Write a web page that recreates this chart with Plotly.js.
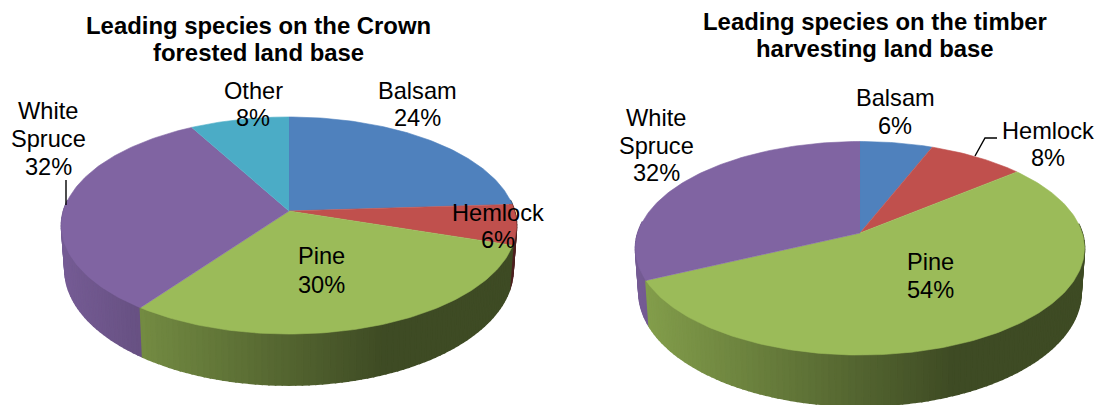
<!DOCTYPE html>
<html>
<head>
<meta charset="utf-8">
<script src="https://cdn.plot.ly/plotly-3.0.1.min.js"></script>
<style>html,body{margin:0;padding:0;background:#fff}#chart{width:1095px;height:405px}</style>
</head>
<body>
<div id="chart"></div>
<script>
// Leading species shares, percent of each land base
const crownSpecies = ["Balsam", "Hemlock", "Pine", "White Spruce", "Other"];
const crownShares = [24, 6, 30, 32, 8];
const timberSpecies = ["Balsam", "Hemlock", "Pine", "White Spruce"];
const timberShares = [6, 8, 54, 32];

const speciesColors = {
  "Balsam": [79, 129, 189],
  "Hemlock": [192, 80, 77],
  "Pine": [155, 187, 89],
  "White Spruce": [128, 100, 162],
  "Other": [75, 172, 198]
};
// The spruce wall catches a little more light than the others
const wallLift = {"White Spruce": 0.06};

// Perspective disc: apex position, half width, tilt depth, foreshortening
const crownDisc = {cx: 289, cy: 211, a: 225.5, b: 106.6, k: 0.1337};
const timberDisc = {cx: 860, cy: 233, a: 222.2, b: 104.6, k: 0.1429};
const WALL = {drop: 42.8, sx: 0.985, sy: 1.067};

const FONT = "Liberation Sans, Arial, sans-serif";
const LABEL_SIZE = 23.6;
const TITLE_SIZE = 23.9;

function topPoint(d, deg) {
  const t = deg * Math.PI / 180, s = 1 + d.k * Math.cos(t);
  return [d.a * Math.sin(t) / s, d.b * Math.cos(t) / s];
}
const toX = (d, u) => d.cx + u;
const toY = (d, v) => d.cy - v;
function wallPoint(d, deg) {
  const p = topPoint(d, deg);
  return [p[0] * WALL.sx, p[1] * WALL.sy - WALL.drop];
}
function shade(rgb, f) {
  return "rgb(" + rgb.map(c => Math.round(c * f)).join(",") + ")";
}
// Side wall gets darker from left to right, then stays flat
function wallFactor(d, u) {
  const t = u / d.a;
  return Math.max(0.4, 0.4 + (0.42 - t) * 0.32);
}

function poly(xs, ys, color, width) {
  return {
    type: "scatter", mode: "lines", x: xs, y: ys, fill: "toself",
    fillcolor: color, line: {color: color, width: width},
    hoverinfo: "skip", showlegend: false
  };
}

function discTraces(d, species, shares) {
  const walls = [], tops = [];
  let acc = 0;
  species.forEach((name, i) => {
    const start = acc * 3.6, end = (acc + shares[i]) * 3.6;
    acc += shares[i];
    const rgb = speciesColors[name];
    // top face wedge
    const xs = [toX(d, 0)], ys = [toY(d, 0)];
    for (let deg = start; deg < end; deg += 1) {
      const p = topPoint(d, deg);
      xs.push(toX(d, p[0])); ys.push(toY(d, p[1]));
    }
    const last = topPoint(d, end);
    xs.push(toX(d, last[0])); ys.push(toY(d, last[1]));
    tops.push(poly(xs, ys, shade(rgb, 1), 0.6));
    // wall strips along the near half of the rim, each overlapping the next
    const step = 1.5;
    for (let deg = start; deg < end; deg += step) {
      const next = Math.min(deg + step, end), mid = (deg + next) / 2;
      if (Math.cos(mid * Math.PI / 180) > 0.1) continue;
      const a = topPoint(d, deg), b = topPoint(d, next);
      const c = wallPoint(d, next), e = wallPoint(d, deg);
      const strip = poly(
        [a, b, c, e, a].map(p => toX(d, p[0])),
        [a, b, c, e, a].map(p => toY(d, p[1])),
        shade(rgb, wallFactor(d, (a[0] + b[0]) / 2) + (wallLift[name] || 0)),
        1.6
      );
      strip.depth = -Math.cos(mid * Math.PI / 180);
      walls.push(strip);
    }
  });
  walls.sort((p, q) => p.depth - q.depth);
  walls.forEach(w => delete w.depth);
  return walls.concat(tops);
}

function leader(xs, ys) {
  return {
    type: "scatter", mode: "lines", x: xs, y: ys,
    line: {color: "#000", width: 1.4}, hoverinfo: "skip", showlegend: false
  };
}

function textLine(text, x, y, size, bold) {
  return {
    text: bold ? "<b>" + text + "</b>" : text,
    x: x, y: y, xref: "x", yref: "y",
    xanchor: "center", yanchor: "middle", showarrow: false,
    font: {family: FONT, size: size, color: "#000"}
  };
}

const pct = v => v + "%";
const annotations = [
  textLine("Leading species on the Crown", 258, 25, TITLE_SIZE, true),
  textLine("forested land base", 258, 52, TITLE_SIZE, true),
  textLine("Leading species on the timber", 875, 21, TITLE_SIZE, true),
  textLine("harvesting land base", 875, 48, TITLE_SIZE, true),

  textLine(crownSpecies[0], 417, 91, LABEL_SIZE),
  textLine(pct(crownShares[0]), 417, 118, LABEL_SIZE),
  textLine(crownSpecies[1], 498, 213, LABEL_SIZE),
  textLine(pct(crownShares[1]), 498, 240, LABEL_SIZE),
  textLine(crownSpecies[2], 321, 256, LABEL_SIZE),
  textLine(pct(crownShares[2]), 321, 285, LABEL_SIZE),
  textLine("White", 48, 111, LABEL_SIZE),
  textLine("Spruce", 48, 139, LABEL_SIZE),
  textLine(pct(crownShares[3]), 48, 167, LABEL_SIZE),
  textLine(crownSpecies[4], 253, 91, LABEL_SIZE),
  textLine(pct(crownShares[4]), 253, 118, LABEL_SIZE),

  textLine(timberSpecies[0], 895, 98, LABEL_SIZE),
  textLine(pct(timberShares[0]), 895, 126, LABEL_SIZE),
  textLine(timberSpecies[1], 1048, 131, LABEL_SIZE),
  textLine(pct(timberShares[1]), 1048, 158, LABEL_SIZE),
  textLine(timberSpecies[2], 930, 262, LABEL_SIZE),
  textLine(pct(timberShares[2]), 930, 290, LABEL_SIZE),
  textLine("White", 656, 118, LABEL_SIZE),
  textLine("Spruce", 656, 146, LABEL_SIZE),
  textLine(pct(timberShares[3]), 656, 173, LABEL_SIZE)
];

const traces = []
  .concat(discTraces(crownDisc, crownSpecies, crownShares))
  .concat(discTraces(timberDisc, timberSpecies, timberShares))
  .concat([leader([66, 66], [180, 205]), leader([975, 985, 997], [156, 138, 138])]);

const hiddenAxis = {visible: false, fixedrange: true, zeroline: false, showgrid: false};
Plotly.newPlot("chart", traces, {
  width: 1095, height: 405,
  margin: {l: 0, r: 0, t: 0, b: 0},
  paper_bgcolor: "#fff", plot_bgcolor: "#fff",
  xaxis: Object.assign({range: [0, 1095]}, hiddenAxis),
  yaxis: Object.assign({range: [405, 0]}, hiddenAxis),
  annotations: annotations,
  showlegend: false
}, {displayModeBar: false, staticPlot: true});
</script>
</body>
</html>
